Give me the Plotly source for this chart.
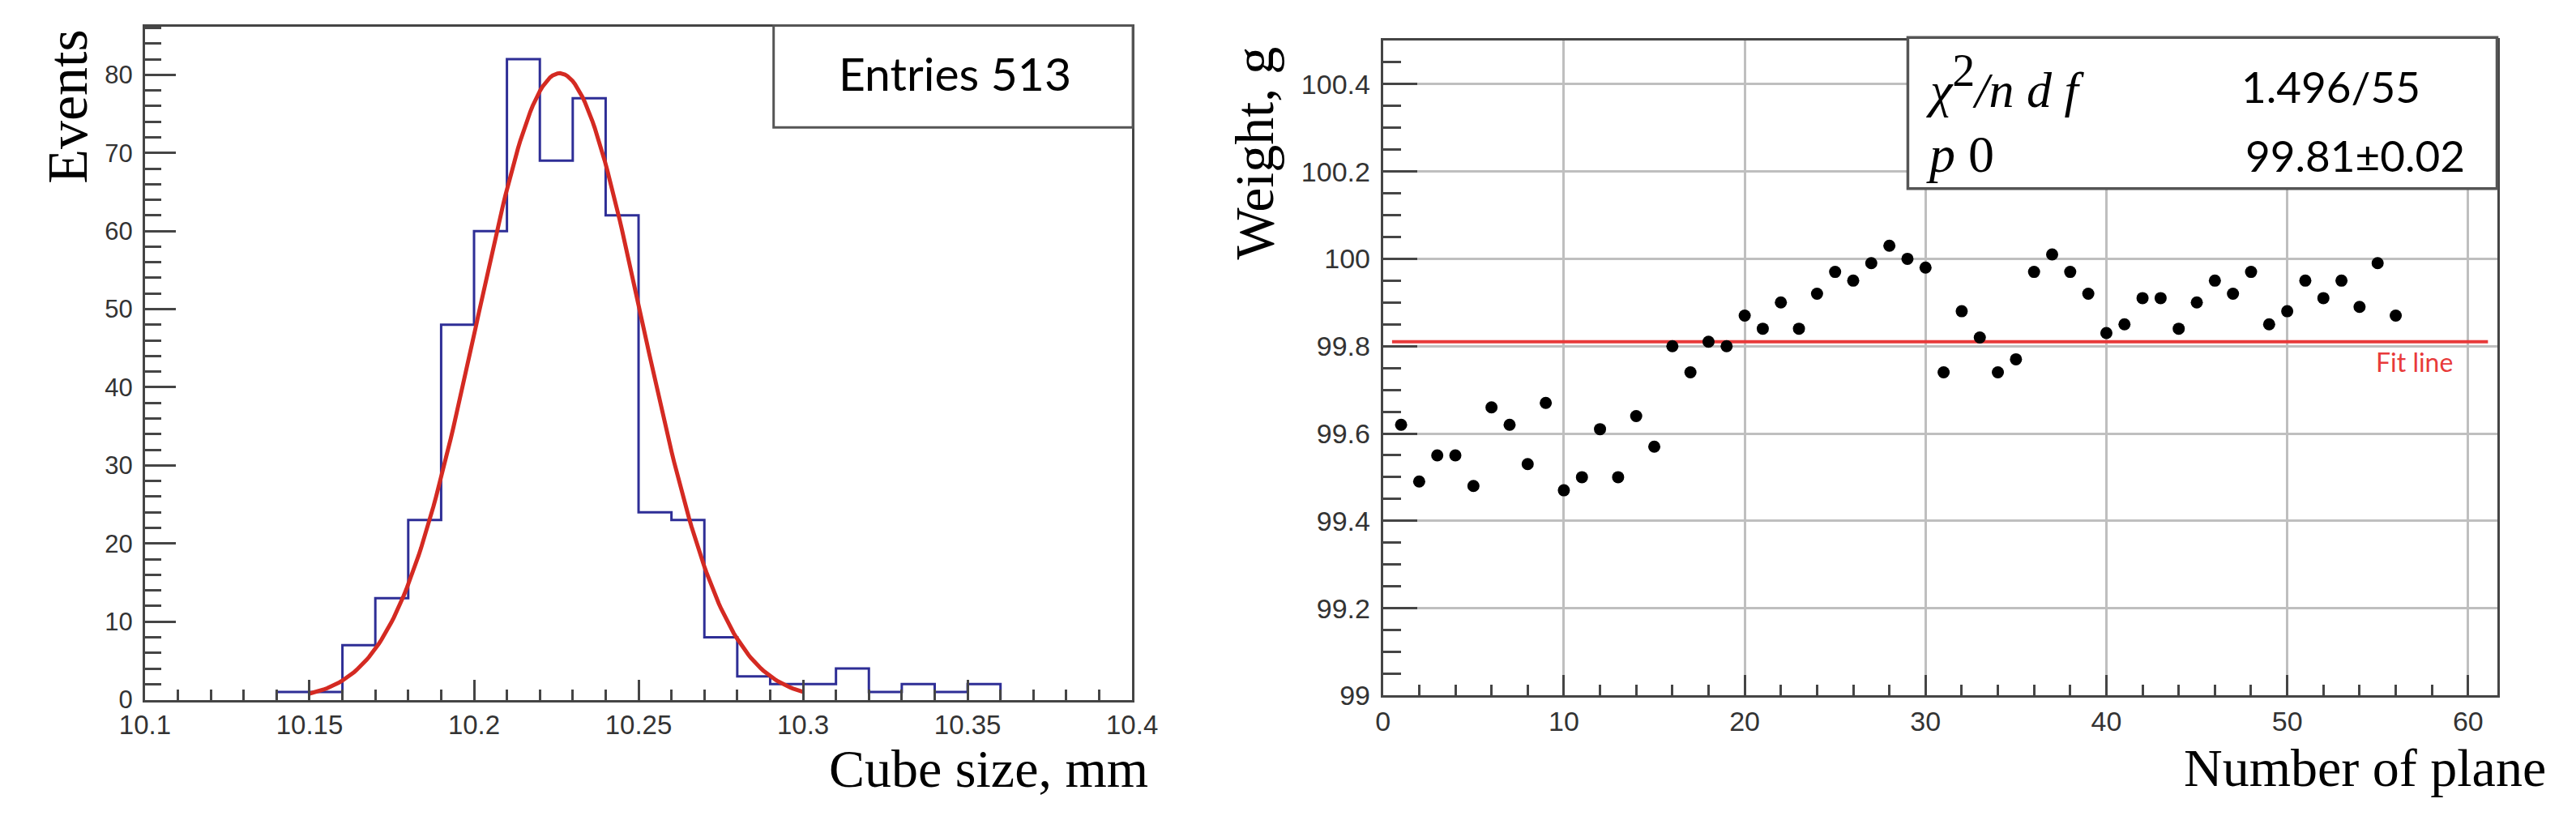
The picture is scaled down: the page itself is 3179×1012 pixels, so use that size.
import math
import plotly.graph_objects as go

W, H = 3179, 1012

# ---------------- Left panel: cube size histogram ----------------
bin_edges = [10.14, 10.15, 10.16, 10.17, 10.18, 10.19, 10.20, 10.21, 10.22, 10.23, 10.24,
             10.25, 10.26, 10.27, 10.28, 10.29, 10.30, 10.31, 10.32, 10.33, 10.34, 10.35, 10.36]
counts = [1, 1, 7, 13, 23, 48, 60, 82, 69, 77, 62, 24, 23, 8, 3, 2, 2, 4, 1, 2, 1, 2]
entries_label = "Entries 513"
# Gaussian fit parameters (constant, mean, sigma) and fit range
gaus_const, gaus_mean, gaus_sigma = 80.2, 10.226, 0.0250
gaus_range = (10.15, 10.30)

# ---------------- Right panel: weight per plane ----------------
planes = [1, 2, 3, 4, 5, 6, 7, 8, 9, 10, 11, 12, 13, 14, 15, 16, 17, 18, 19, 20,
          21, 22, 23, 24, 25, 26, 27, 28, 29, 30, 31, 32, 33, 34, 35, 36, 37, 38, 39, 40,
          41, 42, 43, 44, 45, 46, 47, 48, 49, 50, 51, 52, 53, 54, 55, 56]
weights = [99.62, 99.49, 99.55, 99.55, 99.48, 99.66, 99.62, 99.53, 99.67, 99.47,
           99.50, 99.61, 99.50, 99.64, 99.57, 99.80, 99.74, 99.81, 99.80, 99.87,
           99.84, 99.90, 99.84, 99.92, 99.97, 99.95, 99.99, 100.03, 100.00, 99.98,
           99.74, 99.88, 99.82, 99.74, 99.77, 99.97, 100.01, 99.97, 99.92, 99.83,
           99.85, 99.91, 99.91, 99.84, 99.90, 99.95, 99.92, 99.97, 99.85, 99.88,
           99.95, 99.91, 99.95, 99.89, 99.99, 99.87]
fit_p0 = 99.81
fit_range = (0.5, 61.1)
chi2_text = "1.496/55"
p0_text = "99.81±0.02"


def px(x):
    return x / W


def py(y):
    return (H - y) / H


fig = go.Figure()

# histogram as ROOT-style step outline
hx = [bin_edges[0]] + bin_edges
hy = [0] + counts + [0]
fig.add_trace(go.Scatter(x=hx, y=hy, mode="lines", line=dict(color="#2e2e96", width=3, shape="hv"),
                         xaxis="x", yaxis="y", showlegend=False, hoverinfo="skip"))

# gaussian fit curve from fit parameters
n = 200
gx = [gaus_range[0] + (gaus_range[1] - gaus_range[0]) * i / (n - 1) for i in range(n)]
gy = [gaus_const * math.exp(-0.5 * ((v - gaus_mean) / gaus_sigma) ** 2) for v in gx]
fig.add_trace(go.Scatter(x=gx, y=gy, mode="lines", line=dict(color="#d42a22", width=5),
                         xaxis="x", yaxis="y", showlegend=False, hoverinfo="skip"))

# fit line (right)
fig.add_trace(go.Scatter(x=list(fit_range), y=[fit_p0, fit_p0], mode="lines",
                         line=dict(color="#e83a3a", width=4),
                         xaxis="x2", yaxis="y2", showlegend=False, hoverinfo="skip"))
# points
fig.add_trace(go.Scatter(x=planes, y=weights, mode="markers",
                         marker=dict(color="black", size=15),
                         xaxis="x2", yaxis="y2", showlegend=False))

axis_col = "#454545"
tick_font = dict(family="Liberation Sans, Arial, sans-serif", color="#333333")

fig.update_layout(
    width=W, height=H,
    margin=dict(l=0, r=0, t=0, b=0),
    paper_bgcolor="white", plot_bgcolor="white",
    xaxis=dict(domain=[px(141.8), px(1385)], range=[10.1, 10.4], anchor="y",
               showline=True, linecolor=axis_col, linewidth=3, mirror=True,
               showgrid=False, zeroline=False,
               ticks="inside", ticklen=25, tickwidth=3, tickcolor=axis_col,
               tick0=10.1, dtick=0.05, tickformat="~g",
               tickfont=dict(size=33, **tick_font),
               minor=dict(ticks="inside", ticklen=13, tickwidth=3, tickcolor=axis_col, dtick=0.01, showgrid=False)),
    yaxis=dict(domain=[py(872), py(25)], range=[0, 86.2], anchor="x",
               showline=True, linecolor=axis_col, linewidth=3, mirror=True,
               showgrid=False, zeroline=False,
               ticks="inside", ticklen=38, tickwidth=3, tickcolor=axis_col,
               tick0=0, dtick=10, ticklabelstandoff=6,
               tickfont=dict(size=31, **tick_font),
               minor=dict(ticks="inside", ticklen=20, tickwidth=3, tickcolor=axis_col, dtick=2, showgrid=False)),
    xaxis2=dict(domain=[px(1701), px(3104)], range=[0, 61.6], anchor="y2",
                showline=True, linecolor=axis_col, linewidth=3, mirror=True,
                showgrid=True, gridcolor="#bfbfbf", gridwidth=2.5, zeroline=False,
                ticks="inside", ticklen=25, tickwidth=3, tickcolor=axis_col,
                tick0=0, dtick=10,
                tickfont=dict(size=34, **tick_font),
                minor=dict(ticks="inside", ticklen=13, tickwidth=3, tickcolor=axis_col, dtick=2, showgrid=False)),
    yaxis2=dict(domain=[py(866.7), py(42.7)], range=[99, 100.5], anchor="x2",
                showline=True, linecolor=axis_col, linewidth=3, mirror=True,
                showgrid=True, gridcolor="#bfbfbf", gridwidth=2.5, zeroline=False,
                ticks="inside", ticklen=42, tickwidth=3, tickcolor=axis_col,
                tick0=99, dtick=0.2, tickformat="~g", ticklabelstandoff=6,
                tickfont=dict(size=34, **tick_font),
                minor=dict(ticks="inside", ticklen=22, tickwidth=3, tickcolor=axis_col, dtick=0.05, showgrid=False)),
)

serif = "Liberation Serif, Times New Roman, serif"
sans = "Lato, Open Sans, sans-serif"

shapes = [
    dict(type="rect", xref="paper", yref="paper", x0=px(933.5), x1=px(1386), y0=py(152), y1=py(24),
         line=dict(color="#555555", width=3), fillcolor="white", layer="above"),
    dict(type="rect", xref="paper", yref="paper", x0=px(2362), x1=px(3104), y0=py(229), y1=py(39),
         line=dict(color="#555555", width=3.5), fillcolor="white", layer="above"),
]

annotations = [
    dict(text=entries_label, x=px(1162), y=py(84), xref="paper", yref="paper", showarrow=False,
         xanchor="center", yanchor="middle", font=dict(family=sans, size=57, color="black")),
    dict(text="<i>χ</i><sup><span style=\"font-size:56px\">2</span></sup><i>/n d f</i>", x=px(2383), y=py(94),
         xref="paper", yref="paper",
         showarrow=False, xanchor="left", yanchor="middle", font=dict(family=serif, size=62, color="black")),
    dict(text=chi2_text, x=px(2780), y=py(100), xref="paper", yref="paper", showarrow=False,
         xanchor="left", yanchor="middle", font=dict(family=sans, size=53, color="black")),
    dict(text="<i>p</i> 0", x=px(2383), y=py(186), xref="paper", yref="paper", showarrow=False,
         xanchor="left", yanchor="middle", font=dict(family=serif, size=64, color="black")),
    dict(text=p0_text, x=px(2785), y=py(187), xref="paper", yref="paper", showarrow=False,
         xanchor="left", yanchor="middle", font=dict(family=sans, size=53, color="black")),
    dict(text="Fit line", x=px(3000), y=py(447), xref="paper", yref="paper", showarrow=False,
         xanchor="center", yanchor="middle", font=dict(family=sans, size=32, color="#e83a3a")),
    dict(text="Events", x=px(45), y=py(126), xref="paper", yref="paper", showarrow=False, textangle=-90,
         xanchor="center", yanchor="middle", font=dict(family=serif, size=70, color="black")),
    dict(text="Weight, g", x=px(1538), y=py(185), xref="paper", yref="paper", showarrow=False, textangle=-90,
         xanchor="center", yanchor="middle", font=dict(family=serif, size=68, color="black")),
    dict(text="Cube size, mm", x=px(1407), y=py(959), xref="paper", yref="paper", showarrow=False,
         xanchor="right", yanchor="middle", font=dict(family=serif, size=66, color="black")),
    dict(text="Number of plane", x=px(3168), y=py(957), xref="paper", yref="paper", showarrow=False,
         xanchor="right", yanchor="middle", font=dict(family=serif, size=66, color="black")),
]

fig.update_layout(shapes=shapes, annotations=annotations)
fig.write_html("out.html")
